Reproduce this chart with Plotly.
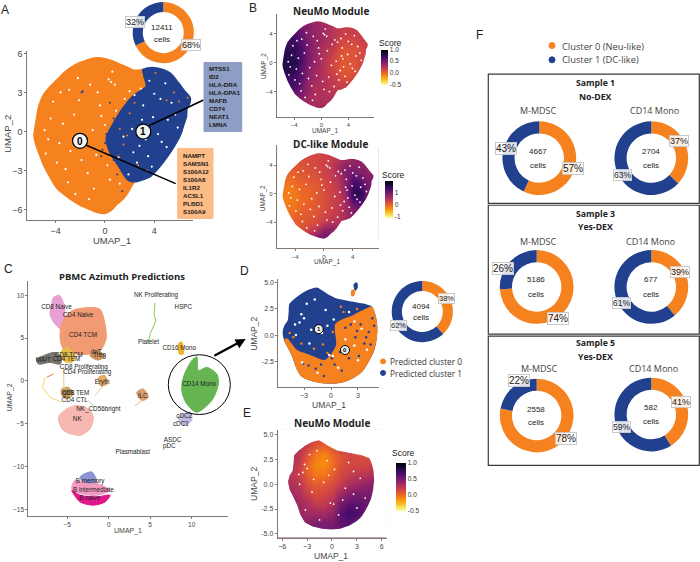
import plotly.graph_objects as go

W, H = 700, 562
ORANGE = '#f5811f'
BLUE = '#21408e'
AXIS_GREY = '#85786f'
TEXT = '#333333'
SANS = 'Liberation Sans'
CAL = 'Open Sans'

a_out_x = [-0.41, 0.14, 0.68, 1.27, 1.76, 2.3, 2.84, 3.51, 4.19, 4.73, 5.27, 5.68, 5.95, 6.41, 6.89, 6.84, 6.62, 6.57, 6.35, 6.14, 5.81, 5.32, 4.73, 4.19, 3.65, 2.97, 2.43, 2.08, 1.76, 1.35, 0.95, 0.49, 0, -0.62, -1.22, -1.89, -2.57, -3.24, -3.92, -4.51, -5, -5.41, -5.68, -5.76, -5.59, -5.41, -5.22, -5, -4.46, -3.92, -3.32, -2.7, -2.08, -1.49, -0.89]
a_out_y = [5.66, 5.56, 5.41, 5.15, 4.97, 4.72, 4.72, 4.85, 4.85, 4.72, 4.46, 4.03, 3.7, 3.11, 2.55, 2.17, 1.79, 1.15, 0.51, -0.13, -0.77, -1.53, -2.3, -2.93, -3.44, -3.7, -3.83, -4.34, -4.85, -5.31, -5.61, -6.07, -6.3, -6.22, -6.0, -5.74, -5.36, -4.9, -4.34, -3.44, -2.55, -1.53, -0.77, -0.26, 0.77, 1.79, 2.35, 2.81, 3.44, 3.95, 4.52, 4.97, 5.28, 5.48, 5.64]
a_blue_x = [3.51, 4.19, 4.73, 5.27, 5.68, 5.95, 6.41, 6.89, 6.84, 6.62, 6.57, 6.35, 6.14, 5.81, 5.32, 4.73, 4.19, 3.65, 2.97, 2.43, 1.89, 1.08, 0.41, 0.14, 0.81, 1.49, 2.43, 3.38, 3.11]
a_blue_y = [4.85, 4.85, 4.72, 4.46, 4.03, 3.7, 3.11, 2.55, 2.17, 1.79, 1.15, 0.51, -0.13, -0.77, -1.53, -2.3, -2.93, -3.44, -3.7, -3.83, -3.7, -2.55, -1.53, -0.51, 0.77, 1.79, 2.81, 3.44, 4.72]
a_hole_x = [0.5, 0.3, 0.8, 2.4, 2.0, 1.6, 3.1, 2.9, 3.9, 3.2, 4.6, 4.3, 5.1, 3.5, 2.6, -0.3, -2.1, -3.4, -2.8, -1.4, -0.9, -3.9, -4.4, -2.2, -1.0, 0.2, -0.6, 1.2, -3.0, -1.7, -4.6, 0.9, 2.8, 4.0, 5.4, 1.9, 3.3,
            -3.6, -4.9, -2.5, -1.2, -0.4, 0.6, -2.9, -4.2, -3.2, -1.9, -0.7, 0.4, 1.1, -2.4, -3.7, -4.8, -1.3, 0.0, 2.2, 3.0, 4.5, 5.7, 5.0, 3.8, 2.3, 1.5, 4.9, 3.6, 5.9]
a_hole_y = [3.8, 4.0, 3.6, 2.8, 3.1, 2.5, 2.0, 3.3, 1.1, 0.5, -0.8, -0.2, 0.9, -1.9, -2.4, 1.2, 2.4, 0.6, -1.5, -3.2, -4.4, -2.4, 1.0, 4.1, 0.1, -2.6, 3.0, -4.0, -3.9, -0.7, -0.6, 1.6, -1.1, 2.9, 2.2, -3.3, -0.6,
            3.0, 0.1, 1.3, 3.6, 2.0, 4.6, 3.2, 2.3, -2.9, -2.2, -1.8, -3.7, -2.0, -4.8, -0.9, -1.7, -5.2, 0.5, 0.2, 0.9, 2.5, 1.3, -1.2, -2.7, -1.6, -0.4, 3.7, 3.9, 0.3]
a_cross_x = [1.2, 1.5, 2.0, 2.7, 4.1, 5.6, 6.7, 5.0, 3.0, 1.8, 1.1, 2.4, 3.4, 6.0]
a_cross_y = [0.2, -1.0, 1.4, -2.6, 4.5, 3.0, 2.6, 2.4, 4.4, -0.3, -1.9, 2.2, -3.0, 2.3]
a_blue_bits_x = [0.1, -0.2, 0.4, 0.7, 0.3, 1.0, 1.4, -1.8, 0.7, -1.9, 0.0, -0.3]
a_blue_bits_y = [-0.2, -1.4, 2.2, -2.2, -1.8, -3.3, -4.6, 3.1, 1.0, 3.0, -0.9, -1.9]

d_out_x = [-5.3, -5.11, -4.74, -4.63, -4.56, -4, -3.26, -2.41, -1.59, -1.04, -0.48, 0.07, 0.63, 1.56, 2.48, 3.59, 4.52, 4.81, 5, 5.07, 4.96, 4.7, 4.33, 3.96, 3.52, 3.04, 2.11, 1, -0.11, -1.22, -2.33, -3.26, -3.81, -4.19, -4.63, -5.11]
d_out_y = [0.25, 0.89, 1.36, 2.15, 2.94, 3.42, 3.89, 4.27, 4.46, 4.21, 3.89, 3.64, 3.42, 3.26, 3.1, 2.94, 2.63, 2.06, 1.36, 0.41, -0.54, -1.49, -2.18, -2.75, -3.32, -3.7, -4.18, -4.49, -4.56, -4.49, -4.27, -3.86, -3.07, -2.12, -1.33, -0.54]
d_orange_x = [-4.93, -3.81, -2.33, -0.67, 0.63, 0.56, 2.48, 4.52, 4.81, 5, 5.07, 4.96, 4.7, 4.33, 3.96, 3.52, 3.04, 2.11, 1, -0.11, -1.22, -2.33, -3.26, -3.81, -4.19, -4.63, -5.11]
d_orange_y = [-0.38, -1.49, -1.96, -2.44, -1.01, 1.04, 1.84, 2.63, 2.06, 1.36, 0.41, -0.54, -1.49, -2.18, -2.75, -3.32, -3.7, -4.18, -4.49, -4.56, -4.49, -4.27, -3.86, -3.07, -2.12, -1.33, -0.54]
d_hole_x = [-3.3, -3.0, -3.5, -2.2, -1.0, 0.2, -0.2, 1.6, 2.6, -4.0, -2.7, -0.6, 3.4, -1.5, 0.8, 2.0, -3.2, 4.0, -3.9, -1.8, 0.3, 1.3, 3.0, -2.4, -0.4, 2.6]
d_hole_y = [2.0, 1.6, 1.2, 0.5, 0.2, -2.0, -1.9, -0.4, -1.0, 1.0, 3.0, 2.4, 0.6, -3.6, -3.1, 2.2, -2.6, -1.4, 0.0, 3.4, 1.5, -1.6, -2.4, -0.8, 0.9, 1.3]
d_blue_bits_x = [3.3, 4.2, 4.6, 2.0, 3.7, 1.2, -0.8, -2.5, 0.4, 2.7, 1.6, -1.7, 4.8, 3.9, 2.9, 1.0, 0.1, -3.1, -1.1, 3.1, 4.4, 2.2]
d_blue_bits_y = [1.0, 0.3, 1.6, -2.2, -0.8, -3.4, -3.9, -2.9, -2.8, -0.2, 0.7, -3.2, 0.9, -0.2, 0.4, -1.6, -2.2, -2.7, -2.8, -2.0, -0.9, 1.0]
d_orange_bits_x = [-4.6, -3.3, -1.9, -0.4, 0.2, 1.4, 2.9, -4.2, -0.9, 1.1, 3.8]
d_orange_bits_y = [0.2, -0.8, -1.3, -1.7, 0.3, 2.2, 2.5, -0.2, -0.9, 2.7, 2.3]
spike_blue_x = [2.56, 2.85, 2.93, 2.7]
spike_blue_y = [4.84, 5.0, 4.53, 4.27]
spike_orange_x = [2.3, 2.63, 2.56, 2.33]
spike_orange_y = [4.27, 4.27, 3.8, 3.73]

# module scores on a coarse UMAP grid
b_grid_x = [-6, -5, -4, -3, -2, -1, 0, 1, 2, 3, 4, 5, 6, 7]
b_grid_y = [6, 5, 4, 3, 2, 1, 0, -1, -2, -3, -4, -5, -6]
neumo_top = [
    [.5, .5, .5, .45, .4, .35, .35, .3, .25, .2, .2, .2, .2, .2],
    [.6, .6, .6, .5, .45, .4, .35, .3, .25, .2, .2, .2, .2, .2],
    [.7, .7, .65, .55, .45, .4, .35, .3, .25, .2, .2, .2, .2, .2],
    [.7, .7, .7, .6, .5, .4, .35, .3, .25, .15, .15, .15, .2, .2],
    [.75, .75, .75, .65, .5, .4, .3, .25, .2, .1, .1, .1, .15, .15],
    [.8, .8, .75, .65, .5, .4, .3, .25, .15, .08, .08, .1, .15, .15],
    [.8, .8, .8, .65, .5, .4, .3, .2, .15, .08, .08, .1, .15, .15],
    [.8, .8, .75, .6, .45, .35, .3, .2, .15, .08, .08, .1, .15, .15],
    [.7, .7, .7, .6, .45, .35, .3, .25, .2, .1, .1, .15, .15, .15],
    [.7, .7, .7, .55, .4, .3, .3, .25, .2, .2, .2, .2, .2, .2],
    [.65, .65, .6, .5, .4, .3, .3, .25, .25, .25, .25, .25, .25, .25],
    [.5, .5, .5, .45, .35, .3, .3, .3, .3, .3, .3, .3, .3, .3],
    [.4, .4, .4, .4, .35, .35, .35, .3, .3, .3, .3, .3, .3, .3],
]
dc_like = [
    [.3, .3, .3, .3, .3, .3, .3, .4, .5, .6, .7, .8, .8, .8],
    [.2, .2, .2, .2, .2, .25, .3, .35, .4, .6, .7, .8, .8, .8],
    [.1, .1, .1, .15, .2, .25, .3, .4, .6, .8, .8, .8, .8, .8],
    [0, 0, .05, .1, .15, .2, .3, .4, .6, .9, 1, .9, .8, .8],
    [-.1, -.1, 0, .05, .1, .15, .25, .35, .5, .8, 1.2, 1.1, .9, .9],
    [-.15, -.15, -.1, 0, .05, .1, .2, .3, .45, .8, 1.4, 1.3, 1, .9],
    [-.2, -.2, -.15, -.05, 0, .1, .2, .3, .4, .7, 1.5, 1.5, 1, .9],
    [-.2, -.2, -.15, -.05, 0, .1, .2, .3, .4, .6, 1.2, 1.3, 1, .9],
    [-.15, -.15, -.1, 0, .05, .1, .2, .3, .4, .6, .9, 1, 1, 1],
    [-.1, -.1, 0, .05, .1, .15, .25, .35, .45, .6, .8, .8, .8, .8],
    [0, 0, .05, .1, .15, .2, .4, .5, .5, .6, .7, .7, .7, .7],
    [.1, .1, .1, .15, .3, .5, .8, .8, .7, .7, .7, .7, .7, .7],
    [.2, .2, .3, .4, .6, .8, 1, .9, .8, .7, .7, .7, .7, .7],
]
e_grid_x = [-6, -5, -4, -3, -2, -1, 0, 1, 2, 3, 4, 5, 6]
e_grid_y = [5, 4, 3, 2, 1, 0, -1, -2, -3, -4, -5]
neumo_e = [
    [.3, .3, .3, .2, .15, .15, .2, .2, .2, .2, .2, .2, .2],
    [.3, .3, .3, .2, .1, .05, .1, .2, .2, .2, .2, .2, .2],
    [.3, .3, .25, .1, -.05, -.1, 0, .1, .15, .12, .12, .12, .2],
    [.3, .3, .2, .02, -.1, -.12, -.03, .1, .15, .15, .15, .2, .2],
    [.25, .25, .2, .05, -.05, -.05, .05, .15, .2, .25, .25, .3, .3],
    [.3, .3, .25, .12, .05, .07, .12, .2, .3, .35, .4, .45, .45],
    [.35, .35, .3, .2, .12, .15, .2, .35, .45, .5, .5, .5, .5],
    [.4, .4, .35, .3, .22, .22, .3, .5, .6, .6, .55, .55, .55],
    [.45, .45, .4, .35, .35, .35, .4, .6, .7, .65, .55, .55, .55],
    [.5, .5, .45, .45, .5, .5, .5, .6, .62, .55, .55, .55, .55],
    [.5, .5, .5, .5, .5, .5, .5, .5, .5, .5, .5, .5, .5],
]
e_spike_x = [2.6, 2.85, 2.75, 2.5, 2.45, 2.6]
e_spike_y = [4.9, 4.7, 4.4, 4.2, 3.9, 3.6]
e_spike_score = [0.0, 0.1, 0.4, 0.6, 0.6, 0.3]

# PBMC clusters in panel C
c_clusters = [
    ('#e7a0d2', [-6.67, -5.95, -5.47, -5.27, -5.67, -6.47, -7.08, -6.88], [9.74, 10.01, 9.16, 7.41, 6.05, 6.64, 7.8, 8.96]),
    ('#f29a73', [-5.67, -4.46, -2.25, -1.05, -0.44, -0.32, -1.05, -2.25, -4.06, -5.47, -5.87], [6.64, 8.19, 8.58, 8.38, 6.64, 4.89, 3.53, 3.14, 3.14, 3.73, 5.08]),
    ('#77736f', [-8.69, -7.88, -6.47, -5.67, -5.87, -7.08, -8.48], [2.56, 2.95, 3.34, 2.76, 1.98, 2.17, 1.98]),
    ('#e8bd45', [-5.67, -4.87, -4.06, -4.46, -5.47], [3.53, 3.92, 2.76, 2.17, 2.37]),
    ('#c9925a', [-2.25, -1.45, -0.44, -1.25], [2.95, 3.53, 2.95, 2.44]),
    ('#e8a868', [-1.25, -0.44, -0.16, -1.05], [0.43, 0.62, -0.35, -0.54]),
    ('#c8a060', [-5.67, -4.87, -4.26, -5.07, -5.67], [-0.93, -0.74, -1.51, -2.1, -1.71]),
    ('#f6b8b0', [-6.07, -5.07, -3.86, -2.45, -1.85, -2.25, -3.46, -5.47], [-4.23, -3.26, -2.87, -3.26, -4.23, -5.59, -6.36, -5.78]),
    ('#d8a070', [3.38, 4.18, 4.78, 3.98], [-1.32, -0.93, -1.9, -2.29]),
    ('#66b552', [9.0, 10.01, 10.62, 10.82, 11.82, 13.03, 13.23, 12.42, 10.62, 9.41, 8.81], [0.43, 2.37, 2.83, 1.2, 1.59, 0.81, -0.35, -2.29, -3.65, -2.68, -1.13]),
    ('#bdb9e0', [8.4, 9.81, 10.01, 9.0], [-4.23, -3.65, -4.62, -5.2]),
    ('#f2b030', [8.4, 8.81, 9.0, 8.52], [4.31, 4.58, 3.14, 3.14]),
    ('#f49ac1', [-4.06, -3.06, -1.45, 0.16, -1.45, -3.46, -4.46], [-11.6, -11.8, -11.99, -12.77, -13.35, -13.15, -12.57]),
    ('#8d93cf', [-3.46, -2.05, -1.45, -3.06], [-11.21, -10.63, -11.8, -11.8]),
    ('#e0188c', [-4.46, -3.46, -1.45, 0.16, -0.44, -1.85, -3.46], [-12.77, -13.35, -13.54, -13.35, -14.13, -14.51, -14.13]),
]
c_strands = [
    ('#8dc85a', [5.59, 5.47, 5.67, 4.99, 4.78], [9.16, 7.8, 7.02, 5.47, 4.5]),
    ('#f5d76e', [-7.68, -7.96, -7.08, -5.67], [0.43, -0.74, -1.9, -2.48]),
    ('#e87a50', [-7.48, -6.67], [0.43, 0.81]),
    ('#f0d070', [-5.47, -5.39], [1.59, -0.93]),
    ('#f5c8a0', [-0.64, -1.65], [-0.54, -1.71]),
    ('#b8d8a0', [-2.45, -1.65], [-2.29, -3.07]),
    ('#f0b090', [3.18, 3.98], [-2.87, -2.29]),
]
c_labels = ['CD8 Naive', 'CD4 Naive', 'CD4 TCM', 'MAIT', 'CD8 TCM', 'CD4 TEM', 'dnT', 'Treg', 'CD8 Proliferating', 'CD4 Proliferating', 'Eryth', 'CD8 TEM', 'gdT', 'CD4 CTL', 'NK_CD56bright', 'NK', 'ILC', 'CD14 Mono', 'CD16 Mono', 'Platelet', 'NK Proliferating', 'HSPC', 'cDC2', 'cDC1', 'ASDC', 'pDC', 'Plasmablast', 'B memory', 'B intermediate', 'B naive']
c_label_x = [-6.3, -3.7, -3.1, -7.9, -4.8, -5.1, -1.5, -1.1, -3.0, -2.6, -0.8, -4.0, -4.9, -4.1, -1.25, -3.8, 4.1, 10.9, 8.5, 4.8, 5.7, 9.0, 9.1, 8.7, 7.7, 7.3, 2.9, -2.25, -1.85, -2.3]
c_label_y = [8.65, 7.7, 5.35, 2.4, 2.95, 2.5, 3.3, 2.95, 1.6, 0.95, -0.2, -1.45, -1.5, -2.3, -3.3, -4.5, -1.8, -0.35, 3.75, 4.5, 10.05, 8.6, -4.2, -5.1, -6.9, -7.6, -8.4, -11.7, -12.8, -13.7]

# donuts: orange share, blue share, cell count
donut_orange = [68, 38, 57, 37, 74, 39, 78, 41]
donut_blue = [32, 62, 43, 63, 26, 61, 22, 59]
donut_cells = ['12411', '4094', '4667', '2704', '5186', '677', '2558', '582']
genes_blue = ['MTSS1', 'ID2', 'HLA-DRA', 'HLA-DPA1', 'MAFB', 'CD74', 'NEAT1', 'LMNA']
genes_orange = ['NAMPT', 'SAMSN1', 'S100A12', 'S100A8', 'IL1R2', 'ACSL1', 'PLBD1', 'S100A9']


def fx(px):
    return px / W


def fy(py):
    return 1 - py / H


fig = go.Figure()
annots = []
shapes = []


def label(px, py, text, size=8, color=TEXT, bold=False, family=SANS, angle=0, anchor='center', box=False):
    a = dict(x=fx(px), y=fy(py), xref='paper', yref='paper', text=f'<b>{text}</b>' if bold else text,
             showarrow=False, xanchor=anchor, yanchor='middle', textangle=angle,
             font=dict(size=size, color=color, family=family))
    if box:
        a.update(bgcolor='rgba(255,255,255,0.85)', bordercolor='#c8c8c8', borderwidth=1, borderpad=0)
    annots.append(a)


def pline(x0, y0, x1, y1, width=1.5, color='black'):
    shapes.append(dict(type='line', xref='paper', yref='paper', x0=fx(x0), x1=fx(x1), y0=fy(y0), y1=fy(y1),
                       line=dict(color=color, width=width)))


def pshape(kind, x0, y0, x1, y1, fill='rgba(0,0,0,0)', line='black', width=1, layer='above'):
    shapes.append(dict(type=kind, xref='paper', yref='paper', x0=fx(x0), x1=fx(x1), y0=fy(y0), y1=fy(y1),
                       fillcolor=fill, line=dict(color=line, width=width), layer=layer))


def axes(n, left, right, top, bottom, xr, yr, xticks, yticks, ytext=None, size=7, color=AXIS_GREY):
    ax = dict(domain=[fx(left), fx(right)], range=xr, tickvals=xticks, showgrid=False, zeroline=False,
              showline=True, linecolor=color, linewidth=1, ticks='outside', ticklen=2, tickcolor=color,
              tickfont=dict(size=size, color='#444444', family=SANS), anchor=f'y{n}')
    ay = dict(domain=[fy(bottom), fy(top)], range=yr, tickvals=yticks, showgrid=False, zeroline=False,
              showline=True, linecolor=color, linewidth=1, ticks='outside', ticklen=2, tickcolor=color,
              tickfont=dict(size=size, color='#444444', family=SANS), anchor=f'x{n}')
    if ytext:
        ay['ticktext'] = ytext
    fig.update_layout(**{f'xaxis{n}': ax, f'yaxis{n}': ay})


def poly(n, xs, ys, color, width=1.5):
    fig.add_trace(go.Scatter(x=xs + xs[:1], y=ys + ys[:1], mode='lines', fill='toself', fillcolor=color,
                             line=dict(color=color, width=width, shape='spline', smoothing=0.8), hoverinfo='skip',
                             showlegend=False, xaxis=f'x{n}', yaxis=f'y{n}'))


def dots(n, xs, ys, color, size=2.5):
    fig.add_trace(go.Scatter(x=xs, y=ys, mode='markers', marker=dict(color=color, size=size), hoverinfo='skip',
                             showlegend=False, xaxis=f'x{n}', yaxis=f'y{n}'))


def score_panel(n, gx, gy, z, out_x, out_y, outer, zmin, zmax, bar, tickvals, ticktext, holes):
    # bar is left, right, top, bottom of the colour bar in pixels
    fig.add_trace(go.Heatmap(x=gx, y=gy, z=z, colorscale='Inferno_r', zmin=zmin, zmax=zmax, zsmooth='best',
                             hoverinfo='skip', xaxis=f'x{n}', yaxis=f'y{n}',
                             colorbar=dict(x=fx(bar[0]), xanchor='left', y=fy(bar[2]), yanchor='top',
                                           len=(bar[3] - bar[2]) / H, thickness=bar[1] - bar[0], xpad=0, ypad=0,
                                           outlinewidth=0, ticks='', tickvals=tickvals, ticktext=ticktext,
                                           tickfont=dict(size=6.5, color='#333333', family=SANS))))
    # white cut-out around the blob, so the score grid only shows inside the outline
    x0, x1, y0, y1 = outer
    path = f'M{x0},{y0} L{x1},{y0} L{x1},{y1} L{x0},{y1} Z M' + ' L'.join(f'{a},{b}' for a, b in zip(out_x, out_y)) + ' Z'
    shapes.append(dict(type='path', path=path, xref=f'x{n}', yref=f'y{n}', fillcolor='white',
                       line=dict(width=0), layer='above'))
    dots(n, holes[0], holes[1], 'white', 1.8)


def donut(orange, blue, cx, cy, r=37.0):
    fig.add_trace(go.Pie(values=[orange, blue], marker=dict(colors=[ORANGE, BLUE], line=dict(width=0)), hole=0.67,
                         sort=False, direction='clockwise', rotation=0, textinfo='none', hoverinfo='skip',
                         showlegend=False, domain=dict(x=[fx(cx - r), fx(cx + r)], y=[fy(cy + r), fy(cy - r)])))


# --- panel A
axes(1, 27.3, 193, 49, 219, [-6.3, 7.14], [-6.82, 6.2], [-4, 0, 4], [-6, -3, 0, 3, 6], size=9)
poly(1, a_out_x, a_out_y, ORANGE)
poly(1, a_blue_x, a_blue_y, BLUE, 2.5)
dots(1, a_blue_bits_x, a_blue_bits_y, BLUE, 2)
dots(1, a_hole_x, a_hole_y, 'white', 2.2)
dots(1, a_cross_x, a_cross_y, ORANGE, 2)
label(112.3, 239, 'UMAP_1', 9.5, '#444444')
label(8, 132.3, 'UMAP_2', 9.5, '#444444', angle=-90)
pline(143, 127, 203.5, 98.3)
pline(80, 141, 175.7, 182.3)
pshape('rect', 204, 60.7, 241.7, 130, fill='#8d9dc4', line='#8d9dc4')
pshape('rect', 177.7, 147, 213, 217.3, fill='#fdbb85', line='#fdbb85')
for i, g in enumerate(genes_blue):
    label(206.7, 66.3 + i * 8.1, g, 6.2, '#1a1a1a', True, anchor='left')
for i, g in enumerate(genes_orange):
    label(181, 153.7 + i * 8.1, g, 6.2, '#1a1a1a', True, anchor='left')
pshape('circle', 72.5, 131.8, 87.5, 146.8, fill='#f4f4f4', width=1.2)
pshape('circle', 135.8, 122.5, 150.8, 137.5, fill='#f0f0f0', width=1.2)
label(80, 139.6, '0', 10, 'black', True)
label(143.3, 130.2, '1', 10, 'black', True)

# --- panel B
axes(2, 276.7, 374, 12.3, 115.7, [-6.6, 7.8], [-7.53, 6.63], [-4, 0, 4], [-4, 0, 4], size=6)
score_panel(2, b_grid_x, b_grid_y, neumo_top, a_out_x, a_out_y, (-6.55, 7.75, -7.48, 6.6), -0.5, 1.0,
            (380.7, 388, 47.7, 83.3), [-0.5, 0, 0.5, 1], ['-0.5', '0.0', '0.5', '1.0'], (a_hole_x, a_hole_y))
axes(3, 276.7, 378.7, 144, 247.3, [-6.57, 7.6], [-7.67, 6.74], [-4, 0, 4], [-4, 0, 4], size=6)
score_panel(3, b_grid_x, b_grid_y, dc_like, a_out_x, a_out_y, (-6.52, 7.55, -7.62, 6.7), -1.05, 1.95,
            (385.3, 393, 179.3, 216), [-1, 0, 1], ['-1', '0', '1'], (a_hole_x, a_hole_y))
label(330.7, 9, 'NeuMo Module', 10, '#222222', True, CAL)
label(330.7, 142.3, 'DC-like Module', 10, '#222222', True, CAL)
label(325, 129, 'UMAP_1', 6.5, '#444444')
label(263.3, 64, 'UMAP_2', 6.5, '#444444', angle=-90)
label(327, 260.7, 'UMAP_1', 6.5, '#444444')
label(263.3, 196.7, 'UMAP_2', 6.5, '#444444', angle=-90)
label(390, 40.7, 'Score', 8.5, '#222222')
label(393, 173.7, 'Score', 8.5, '#222222')

# --- panel C
axes(4, 28.3, 227.7, 280, 516.3, [-9.7, 14.35], [-15.83, 11.68], [-5, 0, 5, 10], [-15, -10, -5, 0, 5, 10], size=6.5)
for col, xs, ys in c_clusters:
    poly(4, xs, ys, col, 1)
for col, xs, ys in c_strands:
    fig.add_trace(go.Scatter(x=xs, y=ys, mode='lines', line=dict(color=col, width=1), hoverinfo='skip',
                             showlegend=False, xaxis='x4', yaxis='y4'))
fig.add_trace(go.Scatter(x=c_label_x, y=c_label_y, text=c_labels, mode='text', hoverinfo='skip', showlegend=False,
                         textfont=dict(size=6.3, color='#222222', family=SANS), xaxis='x4', yaxis='y4'))
label(121.7, 275, 'PBMC Azimuth Predictions', 9.5, '#222222', True, CAL)
label(128, 530.7, 'UMAP_1', 7, '#444444')
label(10, 396.7, 'UMAP_2', 7, '#444444', angle=-90)
pshape('circle', 168.3, 354, 230.3, 414)
pline(214.3, 355, 238, 342.2, 2.5)
fig.add_annotation(x=fx(245.7), y=fy(338.3), ax=-10, ay=5.4, xref='paper', yref='paper',
                   text='', showarrow=True, arrowhead=2, arrowsize=0.8, arrowwidth=2.5, arrowcolor='black')

# --- panel D
axes(5, 278.3, 379.3, 278.3, 386.3, [-5.86, 5.37], [-4.94, 5.32], [-3, 0, 3], [-2.5, 0, 2.5, 5],
     ['-2.5', '0.0', '2.5', '5.0'], size=7)
poly(5, d_out_x, d_out_y, BLUE)
poly(5, d_orange_x, d_orange_y, ORANGE)
poly(5, spike_blue_x, spike_blue_y, BLUE, 1)
poly(5, spike_orange_x, spike_orange_y, ORANGE, 1)
dots(5, d_blue_bits_x, d_blue_bits_y, BLUE, 2.5)
dots(5, d_orange_bits_x, d_orange_bits_y, ORANGE, 2.5)
dots(5, d_hole_x, d_hole_y, 'white', 2.5)
label(329.3, 404.3, 'UMAP_1', 8.5, '#444444')
label(254, 333, 'UMAP_2', 8.5, '#444444', angle=-90)
pshape('circle', 314.2, 323.8, 323.2, 332.8, fill='#f0f0f0', width=1)
pshape('circle', 340.5, 344.8, 349.5, 353.8, fill='#f0f0f0', width=1)
label(318.7, 328.4, '1', 6, 'black', True)
label(345, 349.4, '0', 6, 'black', True)
pshape('circle', 380.5, 358.2, 385.5, 363.2, fill=ORANGE, line=ORANGE)
pshape('circle', 380.5, 369.8, 385.5, 374.8, fill=BLUE, line=BLUE)
label(387.7, 361, 'Predicted cluster 0', 8.3, '#333333', family=CAL, anchor='left')
label(387.7, 372.5, 'Predicted cluster 1', 8.3, '#333333', family=CAL, anchor='left')

# --- panel E
axes(6, 277.7, 386.7, 429.3, 537.7, [-6.54, 6.59], [-5.41, 5.51], [-6, -3, 0, 3, 6], [-5, -2.5, 0, 2.5, 5],
     ['-5.0', '-2.5', '0.0', '2.5', '5.0'], size=7)
score_panel(6, e_grid_x, e_grid_y, neumo_e, d_out_x, d_out_y, (-6.5, 6.55, -5.38, 5.48), -0.5, 1.0,
            (395.7, 405.7, 462.3, 510), [-0.5, 0, 0.5, 1], ['-0.5', '0.0', '0.5', '1.0'], (d_hole_x, d_hole_y))
fig.add_trace(go.Scatter(x=e_spike_x, y=e_spike_y, mode='markers', hoverinfo='skip', showlegend=False, xaxis='x6', yaxis='y6',
                         marker=dict(size=3, color=e_spike_score, colorscale='Inferno_r', cmin=-0.5, cmax=1.0)))
label(332, 422.7, 'NeuMo Module', 10, '#222222', True, CAL)
label(331.3, 556, 'UMAP_1', 8.5, '#444444')
label(253.3, 483.3, 'UMAP_2', 8.5, '#444444', angle=-90)
label(403.3, 452.7, 'Score', 8.5, '#222222')

# --- donuts
donut(donut_orange[0], donut_blue[0], 163.3, 30.7, 30.7)
donut(donut_orange[1], donut_blue[1], 422.3, 310.7, 30.7)
donut(donut_orange[2], donut_blue[2], 539.3, 156.7)
donut(donut_orange[3], donut_blue[3], 651.3, 156.7)
donut(donut_orange[4], donut_blue[4], 536.7, 286)
donut(donut_orange[5], donut_blue[5], 651.3, 286)
donut(donut_orange[6], donut_blue[6], 536.7, 415)
donut(donut_orange[7], donut_blue[7], 651.3, 414)

center_pos = [(162.3, 26, 37.3), (420.7, 305.7, 317), (537.5, 150, 164), (651.3, 150, 164),
              (536, 278, 293.7), (651, 278, 293.7), (535.8, 408.7, 422.3), (651.3, 407.3, 421.3)]
for cells, (cx, y0, y1) in zip(donut_cells, center_pos):
    label(cx, y0, cells, 8, '#222222')
    label(cx, y1, 'cells', 8, '#222222')

pct_labels = [
    (190.7, 42.7, donut_orange[0], 9), (134.7, 19.7, donut_blue[0], 9),
    (446, 297.7, donut_orange[1], 7.5), (398.3, 324.3, donut_blue[1], 7.5),
    (572.7, 167, donut_orange[2], 10), (506, 146.7, donut_blue[2], 10),
    (679.3, 139.3, donut_orange[3], 9), (622.7, 173.7, donut_blue[3], 8.5),
    (558, 317.7, donut_orange[4], 10), (503.3, 267, donut_blue[4], 10),
    (680, 271.3, donut_orange[5], 9), (621.7, 301.7, donut_blue[5], 8.5),
    (566, 438.3, donut_orange[6], 10), (519.3, 380.3, donut_blue[6], 10),
    (680.7, 401.7, donut_orange[7], 9), (621, 426.7, donut_blue[7], 8.5),
]
for px, py, val, size in pct_labels:
    label(px, py, f'{val}%', size, '#222222', box=True)

# --- panel F text and frames
pshape('circle', 549, 40.7, 555, 46.7, fill=ORANGE, line=ORANGE)
pshape('circle', 549, 55, 555, 61, fill=BLUE, line=BLUE)
label(560, 44.3, 'Cluster 0 (Neu-like)', 9.3, '#444444', family=CAL, anchor='left')
label(560, 58, 'Cluster 1 (DC-like)', 9.3, '#444444', family=CAL, anchor='left')
for y0, y1 in [(72.3, 202), (204, 333.3), (335.3, 465)]:
    pshape('rect', 488.3, y0, 699.3, y1, line='#3a3a3a', width=1.2)
for text, py in [('Sample 1', 81), ('No-DEX', 95), ('Sample 3', 212.7), ('Yes-DEX', 226.3), ('Sample 5', 342.3), ('Yes-DEX', 356)]:
    label(595.3, py, text, 8.7, '#222222', True, CAL)
for text, px, py in [('M-MDSC', 538, 109), ('CD14 Mono', 654, 109), ('M-MDSC', 538, 240.3), ('CD14 Mono', 650.7, 240),
                     ('M-MDSC', 539, 367.7), ('CD14 Mono', 653.3, 367.7)]:
    label(px, py, text, 9, '#444444', family=CAL)

# --- panel letters
for text, px, py in [('A', 5, 8), ('B', 253, 6), ('C', 8, 268), ('D', 245, 270), ('E', 247, 412.7), ('F', 479, 33)]:
    label(px, py, text, 12, '#222222')

fig.update_layout(width=W, height=H, margin=dict(l=0, r=0, t=0, b=0, pad=0), paper_bgcolor='white',
                  plot_bgcolor='white', showlegend=False, shapes=shapes)
fig.layout.annotations = list(fig.layout.annotations) + [go.layout.Annotation(a) for a in annots]

fig.write_html("out.html", config={'displayModeBar': False}, post_script="document.body.style.margin='0';")
